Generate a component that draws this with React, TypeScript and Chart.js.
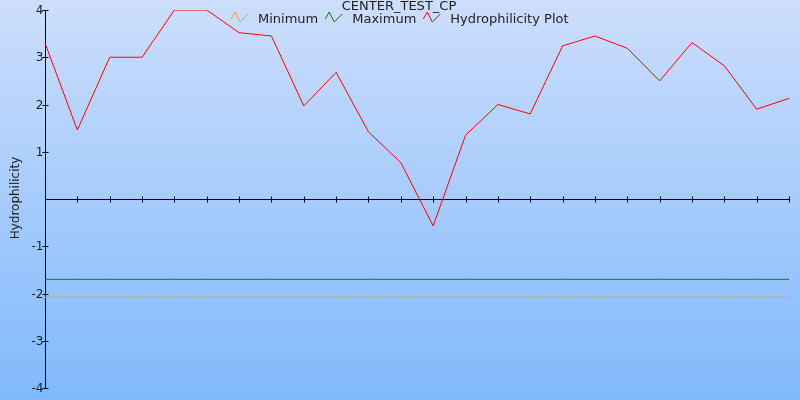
import React, { useEffect, useRef } from 'react';
import { Chart, registerables } from 'chart.js';

Chart.register(...registerables);

const TITLE = 'CENTER_TEST_CP';
const Y_TITLE = 'Hydrophilicity';
const POSITIONS = ['1', '2', '3', '4', '5', '6', '7', '8', '9', '10', '11', '12', '13', '14', '15', '16', '17', '18', '19', '20', '21', '22', '23', '24'];
const MINIMUM = [-2.08, -2.08, -2.08, -2.08, -2.08, -2.08, -2.08, -2.08, -2.08, -2.08, -2.08, -2.08, -2.08, -2.08, -2.08, -2.08, -2.08, -2.08, -2.08, -2.08, -2.08, -2.08, -2.08, -2.08];
const MAXIMUM = [-1.7, -1.7, -1.7, -1.7, -1.7, -1.7, -1.7, -1.7, -1.7, -1.7, -1.7, -1.7, -1.7, -1.7, -1.7, -1.7, -1.7, -1.7, -1.7, -1.7, -1.7, -1.7, -1.7, -1.7];
const HYDRO = [3.3, 1.46, 3.0, 3.0, 4.0, 4.0, 3.52, 3.45, 1.97, 2.68, 1.42, 0.77, -0.57, 1.35, 2.0, 1.8, 3.24, 3.45, 3.19, 2.5, 3.31, 2.82, 1.9, 2.13];
const Y_TICKS = [4, 3, 2, 1, -1, -2, -3, -4];
const SERIES_NAMES = ['Minimum', 'Maximum', 'Hydrophilicity Plot'];
const SERIES_COLORS = ['#FFA500', '#008000', '#FF0000'];

const FONT = "'DejaVu Sans', sans-serif";
const TEXT_COLOR = '#1e1e1e';

const decorPlugin = {
  id: 'decor',
  beforeDraw(chart: any) {
    const { ctx, width, height } = chart;
    ctx.save();
    const g = ctx.createLinearGradient(0, 0, 0, height);
    g.addColorStop(0, 'rgb(205,222,252)');
    g.addColorStop(1, 'rgb(128,185,252)');
    ctx.fillStyle = g;
    ctx.fillRect(0, 0, width, height);
    ctx.restore();
  },
  beforeDatasetsDraw(chart: any) {
    const { ctx, chartArea } = chart;
    const xs = chart.scales.x;
    const ys = chart.scales.y;
    ctx.save();
    ctx.strokeStyle = '#000';
    ctx.lineWidth = 1;
    const ax = Math.round(chartArea.left) + 0.5;
    // y axis line
    ctx.beginPath();
    ctx.moveTo(ax, chartArea.top);
    ctx.lineTo(ax, chartArea.bottom);
    ctx.stroke();
    // y ticks + labels
    ctx.font = `12px ${FONT}`;
    ctx.fillStyle = TEXT_COLOR;
    ctx.textAlign = 'right';
    ctx.textBaseline = 'middle';
    Y_TICKS.forEach((v) => {
      const y = Math.round(ys.getPixelForValue(v)) + 0.5;
      ctx.beginPath();
      ctx.moveTo(ax - 3, y);
      ctx.lineTo(ax + 3, y);
      ctx.stroke();
      ctx.fillText(String(v), ax - 2, y + 0.5);
    });
    // x axis at zero
    const y0 = Math.round(ys.getPixelForValue(0)) + 0.5;
    ctx.beginPath();
    ctx.moveTo(chartArea.left, y0);
    ctx.lineTo(chartArea.right, y0);
    ctx.stroke();
    POSITIONS.forEach((_, i) => {
      const x = Math.round(xs.getPixelForValue(i)) + 0.5;
      ctx.beginPath();
      ctx.moveTo(x, y0 - 3);
      ctx.lineTo(x, y0 + 3);
      ctx.stroke();
    });
    // y axis title
    ctx.save();
    ctx.translate(16, (chartArea.top + chartArea.bottom) / 2 - 1);
    ctx.rotate(-Math.PI / 2);
    ctx.textAlign = 'center';
    ctx.textBaseline = 'middle';
    ctx.fillText(Y_TITLE, 0, 0);
    ctx.restore();
    ctx.restore();
  },
  afterDraw(chart: any) {
    const { ctx, width } = chart;
    ctx.save();
    ctx.fillStyle = TEXT_COLOR;
    ctx.font = `13px ${FONT}`;
    ctx.textAlign = 'center';
    ctx.textBaseline = 'alphabetic';
    ctx.fillText(TITLE, width / 2 - 1, 10);
    // legend
    ctx.textAlign = 'left';
    const iconW = 17;
    const gapIT = 10;
    const gapItems = 7;
    const widths = SERIES_NAMES.map((n) => ctx.measureText(n).width);
    const total = widths.reduce((a, w) => a + iconW + gapIT + w, 0) + gapItems * (SERIES_NAMES.length - 1);
    let x = Math.round(width / 2 - total / 2);
    const yc = 17;
    SERIES_NAMES.forEach((name, i) => {
      ctx.strokeStyle = SERIES_COLORS[i];
      ctx.lineWidth = 1;
      ctx.beginPath();
      ctx.moveTo(x, yc + 2);
      ctx.lineTo(x + 4, yc - 5);
      ctx.lineTo(x + 9, yc + 5);
      ctx.lineTo(x + iconW, yc - 3);
      ctx.stroke();
      ctx.fillStyle = TEXT_COLOR;
      ctx.fillText(name, x + iconW + gapIT, 23);
      x += iconW + gapIT + widths[i] + gapItems;
    });
    ctx.restore();
  },
};

export default function App() {
  const ref = useRef<HTMLCanvasElement>(null);
  useEffect(() => {
    if (!ref.current) return;
    const chart = new Chart(ref.current, {
      type: 'line',
      data: {
        labels: POSITIONS,
        datasets: [
          { label: SERIES_NAMES[0], data: MINIMUM, borderColor: SERIES_COLORS[0], borderWidth: 1, pointRadius: 0, tension: 0, fill: false },
          { label: SERIES_NAMES[1], data: MAXIMUM, borderColor: SERIES_COLORS[1], borderWidth: 1, pointRadius: 0, tension: 0, fill: false },
          { label: SERIES_NAMES[2], data: HYDRO, borderColor: SERIES_COLORS[2], borderWidth: 1, pointRadius: 0, tension: 0, fill: false },
        ],
      },
      options: {
        responsive: false,
        animation: false,
        layout: { padding: { left: 45, right: 11, top: 10, bottom: 12 } },
        plugins: { legend: { display: false }, title: { display: false }, tooltip: { enabled: false } },
        scales: {
          x: { type: 'category', display: false, offset: false },
          y: { type: 'linear', display: false, min: -4, max: 4 },
        },
      },
      plugins: [decorPlugin],
    });
    return () => chart.destroy();
  }, []);
  return (
    <div style={{ position: 'fixed', left: 0, top: 0, width: 800, height: 400 }}>
      <canvas ref={ref} width={800} height={400} style={{ display: 'block', width: 800, height: 400 }} />
    </div>
  );
}
